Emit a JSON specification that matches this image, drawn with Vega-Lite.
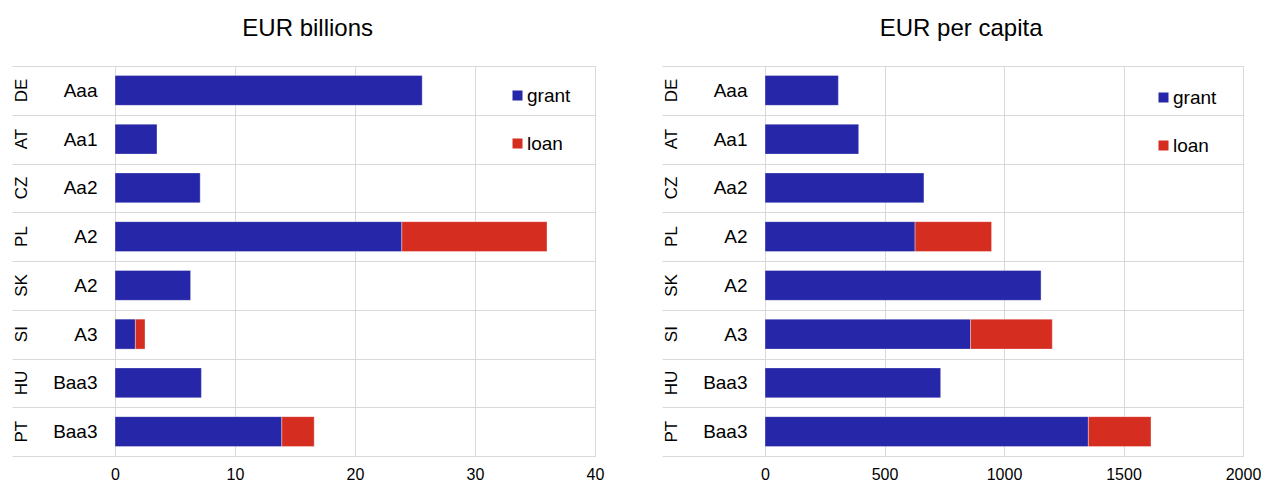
{
  "$schema": "https://vega.github.io/schema/vega-lite/v6.json",
  "background": "white",
  "padding": {"left": 11, "top": 16, "right": 2, "bottom": 0},
  "config": {
    "font": "Liberation Sans",
    "view": {"stroke": "#d9d9d9"},
    "axis": {"labelColor": "#000000", "labelFont": "Liberation Sans"},
    "title": {"color": "#000000", "fontWeight": "normal", "fontSize": 24, "font": "Liberation Sans"}
  },
  "datasets": {
    "billions": [
      {"key": "DE|Aaa", "type": "grant", "value": 25.6},
      {"key": "AT|Aa1", "type": "grant", "value": 3.5},
      {"key": "CZ|Aa2", "type": "grant", "value": 7.1},
      {"key": "PL|A2", "type": "grant", "value": 23.9},
      {"key": "PL|A2", "type": "loan", "value": 12.1},
      {"key": "SK|A2", "type": "grant", "value": 6.3},
      {"key": "SI|A3", "type": "grant", "value": 1.7},
      {"key": "SI|A3", "type": "loan", "value": 0.8},
      {"key": "HU|Baa3", "type": "grant", "value": 7.2},
      {"key": "PT|Baa3", "type": "grant", "value": 13.9},
      {"key": "PT|Baa3", "type": "loan", "value": 2.7}
    ],
    "percapita": [
      {"key": "DE|Aaa", "type": "grant", "value": 307},
      {"key": "AT|Aa1", "type": "grant", "value": 392},
      {"key": "CZ|Aa2", "type": "grant", "value": 665},
      {"key": "PL|A2", "type": "grant", "value": 628},
      {"key": "PL|A2", "type": "loan", "value": 320},
      {"key": "SK|A2", "type": "grant", "value": 1155},
      {"key": "SI|A3", "type": "grant", "value": 860},
      {"key": "SI|A3", "type": "loan", "value": 342},
      {"key": "HU|Baa3", "type": "grant", "value": 735},
      {"key": "PT|Baa3", "type": "grant", "value": 1353},
      {"key": "PT|Baa3", "type": "loan", "value": 262}
    ]
  },
  "spacing": 56,
  "resolve": {"legend": {"color": "independent"}},
  "hconcat": [
    {
      "title": {"text": "EUR billions", "frame": "bounds", "anchor": "middle", "offset": 16},
      "width": 480,
      "height": 390,
      "data": {"name": "billions"},
      "layer": [
        {
          "mark": {"type": "bar", "height": {"band": 0.615}, "stroke": "#ffffff", "strokeOpacity": 0.35, "strokeWidth": 1},
          "encoding": {
            "y": {
              "field": "key", "type": "nominal", "sort": null,
              "scale": {"paddingInner": 0, "paddingOuter": 0},
              "axis": {
                "orient": "left", "title": null, "tickBand": "extent", "ticks": true, "tickSize": 103,
                "tickColor": "#d9d9d9", "domain": false, "grid": true, "gridColor": "#d9d9d9",
                "labelExpr": "split(datum.value, '|')[1]", "labelFontSize": 19,
                "labelPadding": -85, "labelAlign": "right"
              }
            },
            "x": {
              "field": "value", "type": "quantitative", "stack": "zero",
              "scale": {"domain": [0, 40]},
              "axis": {"title": null, "values": [0, 10, 20, 30, 40], "labelFlush": false, "ticks": false, "domain": true, "domainColor": "#d9d9d9", "grid": true, "gridColor": "#d9d9d9", "labelFontSize": 16, "labelPadding": 10}
            },
            "color": {
              "field": "type", "type": "nominal",
              "scale": {"domain": ["grant", "loan"], "range": ["#2626a8", "#d52d20"]},
              "legend": {"orient": "none", "legendX": 393, "legendY": 20, "title": null, "symbolType": "square", "symbolSize": 100, "symbolStrokeWidth": 0, "labelFontSize": 19, "labelColor": "#000000", "rowPadding": 28, "labelOffset": 0}
            }
          }
        },
        {
          "mark": {"type": "bar", "opacity": 0, "height": {"band": 0.615}},
          "encoding": {
            "y": {
              "field": "key", "type": "nominal", "sort": null,
              "axis": {
                "orient": "left", "title": null, "ticks": false, "tickSize": 0, "domain": false, "grid": false,
                "labelExpr": "split(datum.value, '|')[0]", "labelFontSize": 17, "labelAngle": -90,
                "labelAlign": "center", "labelBaseline": "bottom", "labelPadding": 85
              }
            },
            "x": {"field": "value", "type": "quantitative", "stack": "zero"}
          }
        }
      ],
      "resolve": {"axis": {"y": "independent"}}
    },
    {
      "title": {"text": "EUR per capita", "frame": "bounds", "anchor": "middle", "offset": 16},
      "width": 478,
      "height": 390,
      "data": {"name": "percapita"},
      "layer": [
        {
          "mark": {"type": "bar", "height": {"band": 0.615}, "stroke": "#ffffff", "strokeOpacity": 0.35, "strokeWidth": 1},
          "encoding": {
            "y": {
              "field": "key", "type": "nominal", "sort": null,
              "scale": {"paddingInner": 0, "paddingOuter": 0},
              "axis": {
                "orient": "left", "title": null, "tickBand": "extent", "ticks": true, "tickSize": 103,
                "tickColor": "#d9d9d9", "domain": false, "grid": true, "gridColor": "#d9d9d9",
                "labelExpr": "split(datum.value, '|')[1]", "labelFontSize": 19,
                "labelPadding": -85, "labelAlign": "right"
              }
            },
            "x": {
              "field": "value", "type": "quantitative", "stack": "zero",
              "scale": {"domain": [0, 2000]},
              "axis": {"title": null, "values": [0, 500, 1000, 1500, 2000], "format": "d", "labelFlush": false, "ticks": false, "domain": true, "domainColor": "#d9d9d9", "grid": true, "gridColor": "#d9d9d9", "labelFontSize": 16, "labelPadding": 10}
            },
            "color": {
              "field": "type", "type": "nominal",
              "scale": {"domain": ["grant", "loan"], "range": ["#2626a8", "#d52d20"]},
              "legend": {"orient": "none", "legendX": 389, "legendY": 22, "title": null, "symbolType": "square", "symbolSize": 100, "symbolStrokeWidth": 0, "labelFontSize": 19, "labelColor": "#000000", "rowPadding": 28, "labelOffset": 0}
            }
          }
        },
        {
          "mark": {"type": "bar", "opacity": 0, "height": {"band": 0.615}},
          "encoding": {
            "y": {
              "field": "key", "type": "nominal", "sort": null,
              "axis": {
                "orient": "left", "title": null, "ticks": false, "tickSize": 0, "domain": false, "grid": false,
                "labelExpr": "split(datum.value, '|')[0]", "labelFontSize": 17, "labelAngle": -90,
                "labelAlign": "center", "labelBaseline": "bottom", "labelPadding": 85
              }
            },
            "x": {"field": "value", "type": "quantitative", "stack": "zero"}
          }
        }
      ],
      "resolve": {"axis": {"y": "independent"}}
    }
  ]
}
